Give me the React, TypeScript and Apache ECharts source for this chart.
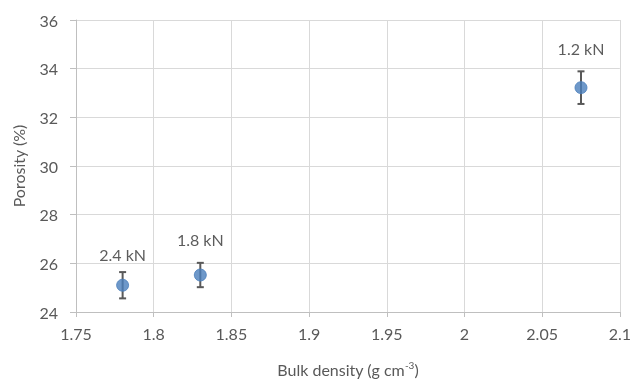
import React, { useEffect, useRef } from "react";
import * as echarts from "echarts";

const loads = ["2.4 kN", "1.8 kN", "1.2 kN"];
const bulkDensity = [1.78, 1.83, 2.075];
const porosity = [25.1, 25.52, 33.22];
const porosityErr = [0.54, 0.5, 0.67];

const labelDistances = [16, 21, 25];

export default function App() {
  const ref = useRef<HTMLDivElement>(null);
  useEffect(() => {
    if (!ref.current) return;
    const chart = echarts.init(ref.current, null, { renderer: "svg" });
    const font = "Lato";
    const textColor = "#595959";
    const points = bulkDensity.map((x, i) => ({
      value: [x, porosity[i]],
      label: { distance: labelDistances[i] },
    }));
    const errData = bulkDensity.map((x, i) => [x, porosity[i] - porosityErr[i], porosity[i] + porosityErr[i]]);
    chart.setOption({
      animation: false,
      textStyle: { fontFamily: font },
      grid: { left: 76, right: 14, top: 20, bottom: 69 },
      xAxis: {
        type: "value",
        min: 1.75,
        max: 2.1,
        interval: 0.05,
        name: "{a|Bulk density (g cm}{s|-3}{a|)}",
        nameLocation: "middle",
        nameGap: 48,
        nameTextStyle: {
          rich: {
            a: { fontFamily: font, fontSize: 16, color: textColor },
            s: { fontFamily: font, fontSize: 10, color: textColor, verticalAlign: "top", padding: [0, 0, 8, 0] },
          },
        },
        axisLine: { show: true, lineStyle: { color: "#bfbfbf", width: 1 } },
        axisTick: { show: true, length: 5, lineStyle: { color: "#bfbfbf" } },
        axisLabel: {
          fontFamily: font,
          fontSize: 16,
          color: textColor,
          margin: 13,
          formatter: (v: number) => String(parseFloat(v.toFixed(2))),
        },
        splitLine: { show: true, lineStyle: { color: "#d9d9d9", width: 1 } },
      },
      yAxis: {
        type: "value",
        min: 24,
        max: 36,
        interval: 2,
        name: "Porosity (%)",
        nameLocation: "middle",
        nameGap: 50,
        nameTextStyle: { fontFamily: font, fontSize: 16, color: textColor },
        axisLine: { show: true, lineStyle: { color: "#bfbfbf", width: 1 } },
        axisTick: { show: true, length: 6, lineStyle: { color: "#bfbfbf" } },
        axisLabel: { fontFamily: font, fontSize: 16, color: textColor, margin: 18 },
        splitLine: { show: true, lineStyle: { color: "#d9d9d9", width: 1 } },
      },
      series: [
        {
          type: "custom",
          data: errData,
          z: 3,
          renderItem: (params: any, api: any) => {
            const x = api.value(0);
            const lo = api.coord([x, api.value(1)]);
            const hi = api.coord([x, api.value(2)]);
            const cap = 3.5;
            const style = { stroke: "#595959", lineWidth: 2 };
            return {
              type: "group",
              children: [
                { type: "line", shape: { x1: lo[0], y1: lo[1], x2: hi[0], y2: hi[1] }, style },
                { type: "line", shape: { x1: lo[0] - cap, y1: lo[1], x2: lo[0] + cap, y2: lo[1] }, style },
                { type: "line", shape: { x1: hi[0] - cap, y1: hi[1], x2: hi[0] + cap, y2: hi[1] }, style },
              ],
            };
          },
        },
        {
          type: "scatter",
          data: points,
          z: 4,
          symbol: "circle",
          symbolSize: 12,
          itemStyle: { color: "#4a7ebb", borderColor: "#4a7ebb" },
          label: {
            show: true,
            position: "top",
            fontFamily: font,
            fontSize: 16,
            color: "#333333",
            formatter: (p: any) => loads[p.dataIndex],
          },
        },
      ],
    });
    return () => chart.dispose();
  }, []);
  return <div ref={ref} style={{ position: "fixed", left: 0, top: 0, width: 634, height: 382 }} />;
}
